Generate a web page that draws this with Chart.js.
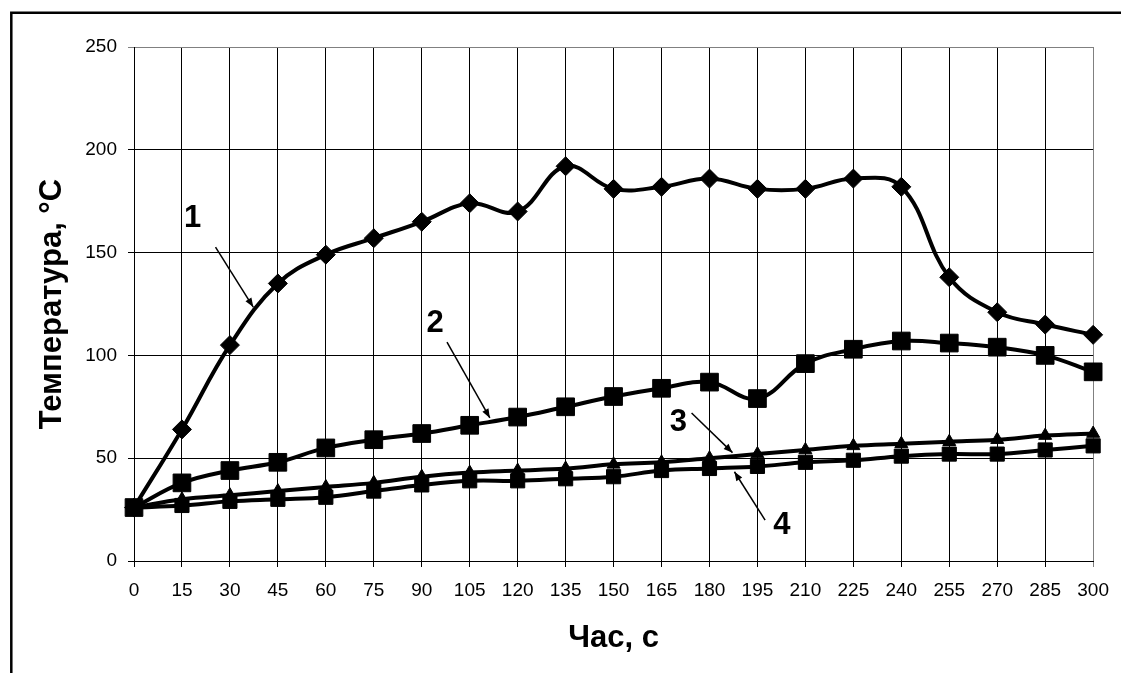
<!DOCTYPE html>
<html lang="uk">
<head>
<meta charset="UTF-8">
<title>Температура</title>
<script src="https://cdn.jsdelivr.net/npm/chart.js"></script>
<style>
  html, body { margin: 0; padding: 0; background: #fff; }
  #wrap { width: 1121px; height: 673px; }
</style>
</head>
<body>
<div id="wrap"><canvas id="tempChart" width="1121" height="673"></canvas></div>
<script>
// час, с
const times = [0, 15, 30, 45, 60, 75, 90, 105, 120, 135, 150, 165, 180, 195, 210, 225, 240, 255, 270, 285, 300];
// температура по кривих 1-4
const curve1 = [26, 64, 105, 135, 149, 157, 165, 174, 170, 192, 181, 182, 186, 181, 181, 186, 182, 138, 121, 115, 110];
const curve2 = [26, 38, 44, 48, 55, 59, 62, 66, 70, 75, 80, 84, 87, 79, 96, 103, 107, 106, 104, 100, 92];
const curve3 = [26, 30, 32, 34, 36, 38, 41, 43, 44, 45, 47, 48, 50, 52, 54, 56, 57, 58, 59, 61, 62];
const curve4 = [26, 27, 29, 30, 31, 34, 37, 39, 39, 40, 41, 44, 45, 46, 48, 49, 51, 52, 52, 54, 56];

// підписи кривих (у значеннях осей)
const noteText = ['1', '2', '3', '4'];
const noteX = [18.3, 94.2, 170.3, 202.6];
const noteY = [166.8, 115.3, 67.5, 17.5];
const arrowFromX = [25.5, 97.9, 174.4, 197.4];
const arrowFromY = [152.7, 106.5, 72, 19.9];
const arrowToX = [37.3, 111.3, 187.2, 187.8];
const arrowToY = [123.5, 69.6, 52.7, 43.4];

const FONT = '"Liberation Sans", Arial, sans-serif';

function points(values) {
    return times.map((t, i) => ({ x: t, y: values[i] }));
}

function series(values, style, radius, width) {
    return {
        data: points(values),
        borderColor: '#000',
        backgroundColor: '#000',
        borderWidth: width,
        pointStyle: style,
        pointRadius: radius,
        pointBorderWidth: 1,
        tension: 0.4,
        clip: false
    };
}

// рамка навколо малюнка (верх і ліво)
const framePlugin = {
    id: 'frame',
    afterDraw(chart) {
        const ctx = chart.ctx;
        ctx.save();
        ctx.strokeStyle = '#000';
        ctx.lineWidth = 2.5;
        ctx.beginPath();
        ctx.moveTo(11.3, chart.height);
        ctx.lineTo(11.3, 12.8);
        ctx.lineTo(chart.width, 12.8);
        ctx.stroke();
        ctx.restore();
    }
};

// номери кривих зі стрілками
const notesPlugin = {
    id: 'notes',
    afterDatasetsDraw(chart) {
        const ctx = chart.ctx;
        const xs = chart.scales.x, ys = chart.scales.y;
        ctx.save();
        ctx.fillStyle = '#000';
        ctx.strokeStyle = '#000';
        ctx.font = 'bold 31px ' + FONT;
        ctx.textAlign = 'center';
        ctx.textBaseline = 'middle';
        noteText.forEach((txt, i) => {
            ctx.fillText(txt, xs.getPixelForValue(noteX[i]), ys.getPixelForValue(noteY[i]));
            const x1 = xs.getPixelForValue(arrowFromX[i]), y1 = ys.getPixelForValue(arrowFromY[i]);
            const x2 = xs.getPixelForValue(arrowToX[i]), y2 = ys.getPixelForValue(arrowToY[i]);
            ctx.lineWidth = 1.5;
            ctx.beginPath();
            ctx.moveTo(x1, y1);
            ctx.lineTo(x2, y2);
            ctx.stroke();
            const a = Math.atan2(y2 - y1, x2 - x1);
            ctx.beginPath();
            ctx.moveTo(x2, y2);
            ctx.lineTo(x2 - 9 * Math.cos(a) + 3.5 * Math.sin(a), y2 - 9 * Math.sin(a) - 3.5 * Math.cos(a));
            ctx.lineTo(x2 - 9 * Math.cos(a) - 3.5 * Math.sin(a), y2 - 9 * Math.sin(a) + 3.5 * Math.cos(a));
            ctx.closePath();
            ctx.fill();
        });
        ctx.restore();
    }
};

new Chart(document.getElementById('tempChart'), {
    type: 'line',
    data: {
        datasets: [
            series(curve1, 'rectRot', 9.5, 4),
            series(curve2, 'rect', 12.5, 4),
            series(curve3, 'triangle', 7.5, 4),
            series(curve4, 'rect', 10, 4)
        ]
    },
    options: {
        responsive: false,
        animation: false,
        devicePixelRatio: 1,
        layout: { padding: { top: 47, right: 22, left: 0, bottom: 0 } },
        plugins: { legend: { display: false }, tooltip: { enabled: false } },
        scales: {
            x: {
                type: 'linear',
                min: 0,
                max: 300,
                ticks: {
                    stepSize: 15, autoSkip: false, maxRotation: 0, padding: 12,
                    color: '#000', font: { family: FONT, size: 19 }
                },
                grid: {
                    color: c => (c.tick && c.tick.value === 300 ? '#808080' : '#000'),
                    lineWidth: 1,
                    tickLength: 6
                },
                border: { color: '#000', width: 1 },
                title: {
                    display: true, text: 'Час, с', color: '#000',
                    font: { family: FONT, size: 31, weight: 'bold' },
                    padding: { top: 0, bottom: 16 }
                },
                afterFit(s) { s.height = 112; }
            },
            y: {
                min: 0,
                max: 250,
                ticks: {
                    stepSize: 50, padding: 11,
                    color: '#000', font: { family: FONT, size: 19 }
                },
                grid: {
                    color: c => (c.tick && c.tick.value === 250 ? '#808080' : '#000'),
                    lineWidth: 1,
                    tickLength: 6
                },
                border: { color: '#000', width: 1 },
                title: {
                    display: true, text: 'Температура, °C', color: '#000',
                    font: { family: FONT, size: 31, weight: 'bold' },
                    padding: { top: 34, bottom: 0 }
                },
                afterFit(s) { s.width = 134; }
            }
        }
    },
    plugins: [framePlugin, notesPlugin]
});
</script>
</body>
</html>
